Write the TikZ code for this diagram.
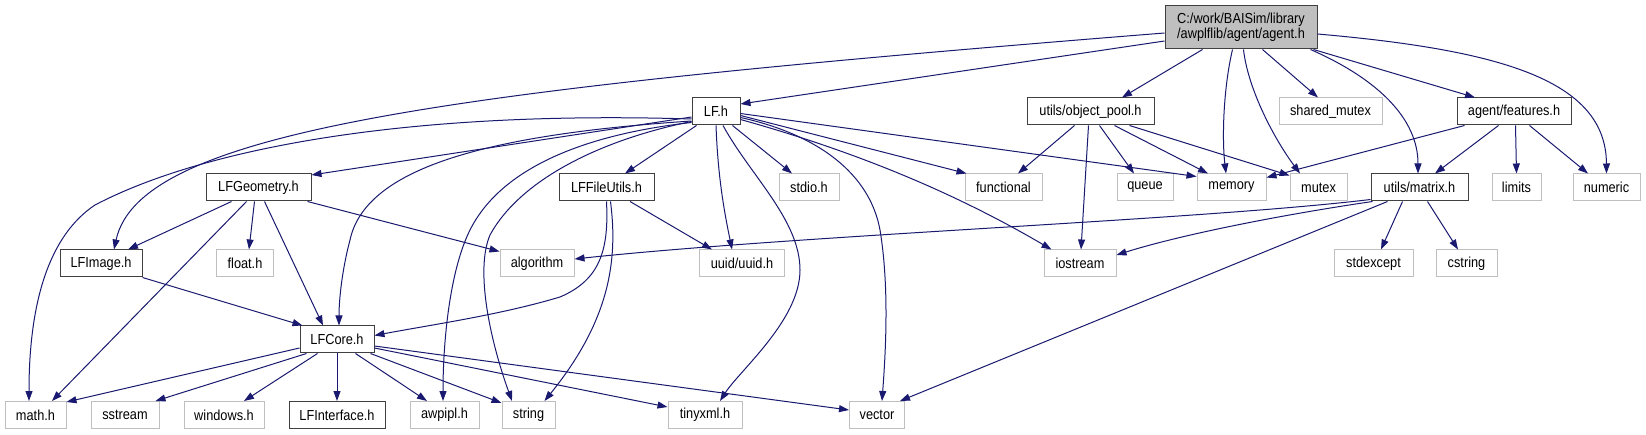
\documentclass[tikz,border=0pt]{standalone}
\usepackage{fontspec}
\setmainfont[FakeStretch=0.88]{Liberation Sans}
\usetikzlibrary{arrows.meta}
\definecolor{edgeblue}{HTML}{191970}
\definecolor{boxgrey}{HTML}{BFBFBF}
\definecolor{boxline}{HTML}{404040}
\newcommand\boxfont{\fontsize{14.5}{15}\selectfont}
\begin{document}
\begin{tikzpicture}[x=1pt,y=-1pt,
  box/.style={draw=boxline, line width=1pt, fill=white, minimum height=27pt, inner sep=0pt, font=\boxfont, text=black},
  sys/.style={box, draw=boxgrey},
  dep/.style={draw=edgeblue, line width=1pt, -{Triangle[length=10pt,width=7pt]}}]
\fill[white] (0,0) rectangle (1646,435);
\useasboundingbox (0,0) rectangle (1646,435);
% row 0
\node[box, fill=boxgrey, minimum width=152pt, minimum height=43pt, align=center] (agent) at (1241,27.5) {C:/work/BAISim/library\\/awplflib/agent/agent.h};
% row 1
\node[box, minimum width=48pt] (LF) at (716,111.5) {LF.h};
\node[box, minimum width=127pt] (objpool) at (1090.5,111.5) {utils/object\_pool.h};
\node[sys, minimum width=103pt] (sharedmutex) at (1330.5,111.5) {shared\_mutex};
\node[box, minimum width=114pt] (features) at (1514,111.5) {agent/features.h};
% row 2
\node[box, minimum width=105pt] (LFGeometry) at (258.5,187.5) {LFGeometry.h};
\node[box, minimum width=95pt] (LFFileUtils) at (606.5,187.5) {LFFileUtils.h};
\node[sys, minimum width=60pt] (stdio) at (809,187.5) {stdio.h};
\node[sys, minimum width=77pt] (functional) at (1003.5,187.5) {functional};
\node[sys, minimum width=56pt] (queue) at (1145,187.5) {queue};
\node[sys, minimum width=69pt] (memory) at (1231.5,187.5) {memory};
\node[sys, minimum width=57pt] (mutex) at (1318.5,187.5) {mutex};
\node[box, minimum width=97pt] (matrix) at (1419.5,187.5) {utils/matrix.h};
\node[sys, minimum width=49pt] (limits) at (1516.5,187.5) {limits};
\node[sys, minimum width=67pt] (numeric) at (1606.5,187.5) {numeric};
% row 3
\node[box, minimum width=82pt] (LFImage) at (101,263.5) {LFImage.h};
\node[sys, minimum width=57pt] (floath) at (245,263.5) {float.h};
\node[sys, minimum width=74pt] (algorithm) at (537,263.5) {algorithm};
\node[sys, minimum width=85pt] (uuid) at (742,263.5) {uuid/uuid.h};
\node[sys, minimum width=72pt] (iostream) at (1080,263.5) {iostream};
\node[sys, minimum width=79pt] (stdexcept) at (1373.5,263.5) {stdexcept};
\node[sys, minimum width=61pt] (cstring) at (1466.5,263.5) {cstring};
% row 4
\node[box, minimum width=74pt] (LFCore) at (337,339.5) {LFCore.h};
% row 5
\node[sys, minimum width=61pt] (mathh) at (35.5,415) {math.h};
\node[sys, minimum width=68pt] (sstream) at (125,415) {sstream};
\node[sys, minimum width=80pt] (windows) at (224,415) {windows.h};
\node[box, minimum width=96pt] (LFInterface) at (337,415) {LFInterface.h};
\node[sys, minimum width=69pt] (awpipl) at (444.5,415) {awpipl.h};
\node[sys, minimum width=53pt] (string) at (528.5,415) {string};
\node[sys, minimum width=74pt] (tinyxml) at (705,415) {tinyxml.h};
\node[sys, minimum width=55pt] (vector) at (877,415) {vector};
% agent.h
\draw[dep] ([yshift=-5.5pt]agent.west) .. controls (450,90) and (140,130) .. ([xshift=13pt]LFImage.north);
\draw[dep] ([yshift=-13.5pt]agent.west) -- ([yshift=7.5pt]LF.east);
\draw[dep] ([xshift=38pt]agent.south west) -- ([xshift=31.5pt]objpool.north);
\draw[dep] ([xshift=68pt]agent.south west) .. controls (1223,90) and (1222,140) .. ([xshift=-5.5pt]memory.north);
\draw[dep] ([xshift=79pt]agent.south west) .. controls (1248,90) and (1275,140) .. ([xshift=-18.5pt]mutex.north);
\draw[dep] ([xshift=98pt]agent.south west) -- ([xshift=-12.5pt]sharedmutex.north);
\draw[dep] ([xshift=-7pt]agent.south east) .. controls (1380,80) and (1418,120) .. ([xshift=-1.5pt]matrix.north);
\draw[dep] ([xshift=-4pt]agent.south east) -- ([xshift=-39pt]features.north);
\draw[dep] ([yshift=-6.5pt]agent.east) .. controls (1500,50) and (1606,80) .. (numeric.north);
% LF.h
\draw[dep] ([yshift=-5.5pt]LF.west) -- ([yshift=-1.5pt]LFGeometry.north east);
\draw[dep] ([yshift=-7.5pt]LF.west) .. controls (400,110) and (200,150) .. (95,205) .. controls (50,235) and (29,300) .. ([xshift=-6.5pt]mathh.north);
\draw[dep] ([yshift=-9.5pt]LF.west) .. controls (480,135) and (365,170) .. (350,240) .. controls (342,270) and (339,300) .. ([xshift=2pt]LFCore.north);
\draw[dep] ([yshift=-11pt]LF.west) .. controls (580,135) and (500,170) .. (470,230) .. controls (450,270) and (443,340) .. ([xshift=-1.5pt]awpipl.north);
\draw[dep] ([yshift=-10pt]LF.west) .. controls (600,140) and (520,180) .. (490,235) .. controls (475,270) and (490,340) .. ([xshift=-16.5pt]string.north);
\draw[dep] ([xshift=5pt]LF.south west) -- ([xshift=18.5pt]LFFileUtils.north);
\draw[dep] (LF.south) .. controls (718,180) and (725,215) .. ([xshift=-10pt]uuid.north);
\draw[dep] ([xshift=7pt]LF.south) .. controls (750,175) and (800,220) .. (800,270) .. controls (800,320) and (740,370) .. ([xshift=15pt]tinyxml.north);
\draw[dep] ([xshift=-8pt]LF.south east) -- ([xshift=-17pt]stdio.north);
\draw[dep] ([yshift=-6pt]LF.east) .. controls (820,135) and (870,175) .. (880,230) .. controls (890,290) and (885,360) .. ([xshift=5pt]vector.north);
\draw[dep] ([yshift=-8pt]LF.east) .. controls (850,150) and (950,190) .. ([xshift=8pt]iostream.north west);
\draw[dep] ([yshift=-4pt]LF.east) -- ([xshift=2pt]functional.north west);
\draw[dep] ([yshift=-2pt]LF.east) -- ([yshift=-3pt]memory.north west);
% LFFileUtils.h
\draw[dep] ([xshift=23.5pt]LFFileUtils.south) -- ([xshift=-30pt]uuid.north);
\draw[dep] (LFFileUtils.south) .. controls (609,250) and (600,280) .. (560,297) .. controls (500,315) and (430,325) .. ([yshift=4pt]LFCore.east);
\draw[dep] ([xshift=4pt]LFFileUtils.south) .. controls (618,260) and (610,320) .. ([xshift=16pt]string.north);
% LFGeometry.h
\draw[dep] ([xshift=26pt]LFGeometry.south west) -- ([xshift=27pt]LFImage.north);
\draw[dep] ([xshift=41pt]LFGeometry.south west) -- ([xshift=16.5pt]mathh.north);
\draw[dep] ([xshift=49pt]LFGeometry.south west) -- ([xshift=4pt]floath.north);
\draw[dep] ([xshift=59pt]LFGeometry.south west) -- ([xshift=-14pt]LFCore.north);
\draw[dep] ([xshift=-4pt]LFGeometry.south east) -- ([yshift=-2pt]algorithm.north west);
% LFImage.h
\draw[dep] (LFImage.south east) -- ([xshift=3pt]LFCore.north west);
% LFCore.h
\draw[dep] ([yshift=-8.5pt]LFCore.west) -- ([yshift=-1pt]mathh.north east);
\draw[dep] ([xshift=7pt]LFCore.south west) -- ([xshift=-4pt]sstream.north east);
\draw[dep] ([xshift=18pt]LFCore.south west) -- ([xshift=20pt]windows.north);
\draw[dep] (LFCore.south) -- (LFInterface.north);
\draw[dep] ([xshift=56pt]LFCore.south west) -- ([xshift=-17.5pt]awpipl.north);
\draw[dep] ([xshift=-4pt]LFCore.south east) -- ([yshift=-2pt]string.north west);
\draw[dep] ([yshift=-8.5pt]LFCore.east) -- ([yshift=8pt]tinyxml.west);
\draw[dep] ([yshift=-6.5pt]LFCore.east) -- ([yshift=5pt]vector.west);
% utils/object_pool.h
\draw[dep] ([xshift=48pt]objpool.south west) -- ([xshift=14.5pt]functional.north);
\draw[dep] ([xshift=62pt]objpool.south west) -- ([xshift=1pt]iostream.north);
\draw[dep] ([xshift=73pt]objpool.south west) -- ([xshift=-11pt]queue.north);
\draw[dep] ([xshift=88pt]objpool.south west) -- ([xshift=-23.5pt]memory.north);
\draw[dep] ([xshift=103pt]objpool.south west) -- ([yshift=-2pt]mutex.north west);
% agent/features.h
\draw[dep] ([xshift=8pt]features.south west) -- ([yshift=-4pt]memory.north east);
\draw[dep] ([xshift=42pt]features.south west) -- ([xshift=15.5pt]matrix.north);
\draw[dep] ([xshift=59pt]features.south west) -- (limits.north);
\draw[dep] ([xshift=73pt]features.south west) -- ([xshift=-18.5pt]numeric.north);
% utils/matrix.h
\draw[dep] ([yshift=2pt]matrix.south west) .. controls (1200,220) and (800,235) .. ([yshift=4.5pt]algorithm.east);
\draw[dep] ([xshift=2pt]matrix.south west) .. controls (1280,215) and (1180,235) .. ([yshift=8.5pt]iostream.east);
\draw[dep] ([xshift=17pt]matrix.south west) -- ([xshift=-5pt]vector.north east);
\draw[dep] ([xshift=32pt]matrix.south west) -- ([xshift=7.5pt]stdexcept.north);
\draw[dep] ([xshift=57pt]matrix.south west) -- ([xshift=-8.5pt]cstring.north);
\end{tikzpicture}
\end{document}
